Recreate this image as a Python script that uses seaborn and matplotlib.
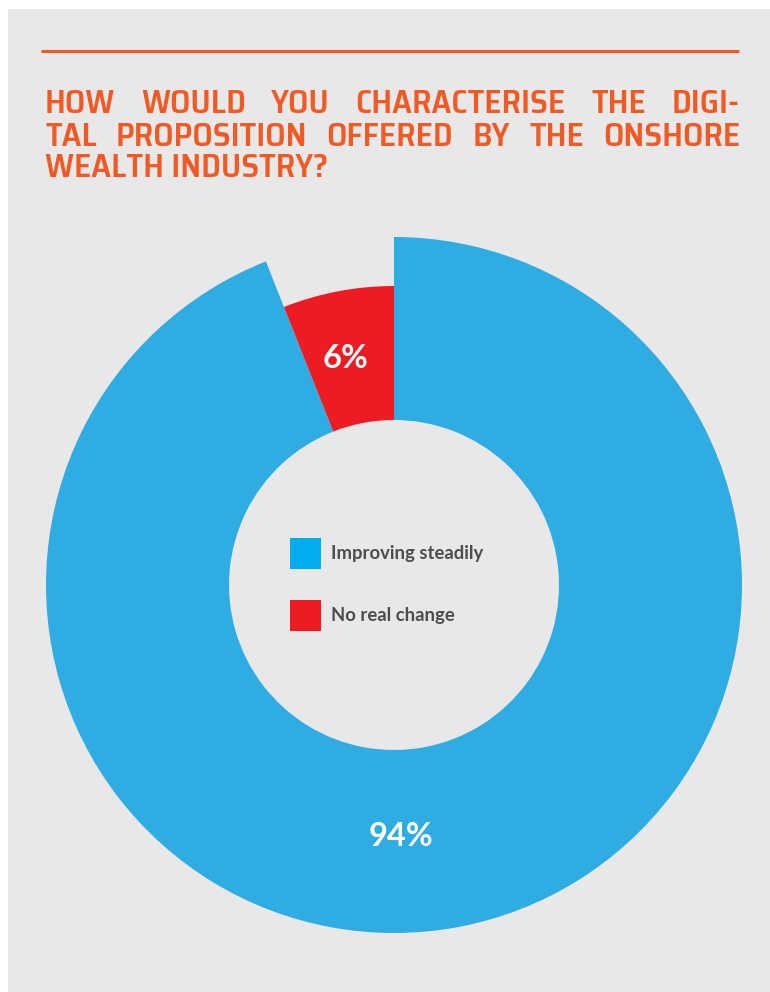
import matplotlib
matplotlib.use("Agg")
import matplotlib.pyplot as plt
from matplotlib.patches import Rectangle
import numpy as np
import seaborn as sns

# Survey answers
categories = ["Improving steadily", "No real change"]
shares = [94, 6]
slice_colors = ["#2FACE1", "#ED1C24"]
legend_colors = ["#00AEEF", "#ED1C24"]

title_lines = [
    "HOW WOULD YOU CHARACTERISE THE DIGI-",
    "TAL PROPOSITION OFFERED BY THE ONSHORE",
    "WEALTH INDUSTRY?",
]

sns.set_theme(style="white")
plt.rcParams["font.family"] = ["DejaVu Sans"]

TITLE_FONT = ["Saira SemiCondensed", "Saira Condensed", "DejaVu Sans"]
BODY_FONT = ["Lato", "DejaVu Sans"]
ORANGE = "#F15A24"

W, H = 770, 992
fig = plt.figure(figsize=(W / 100, H / 100), dpi=100, facecolor="white")
ax = fig.add_axes([0, 0, 1, 1])

# donut: each answer gets its own outer radius, shared inner hole
center = (394, H - 585)
inner_r = 165
outer_r = [348, 299]
for i, (r, c) in enumerate(zip(outer_r, slice_colors)):
    cols = ["none"] * len(shares)
    cols[i] = c
    wedges, _ = ax.pie(shares, colors=cols, startangle=90, counterclock=False,
                       radius=r, center=center, frame=True,
                       wedgeprops=dict(width=r - inner_r, linewidth=0, edgecolor="none"))
    for j, w in enumerate(wedges):
        w.set_visible(j == i)
        w.set_zorder(2)

ax.set_xlim(0, W)
ax.set_ylim(0, H)
ax.set_aspect("equal")
ax.axis("off")

# grey panel and orange rule
ax.add_patch(Rectangle((8, 0), W - 8, H - 9, facecolor="#E8E8E8", edgecolor="none", zorder=0))
ax.plot([41, 739], [H - 51, H - 51], color=ORANGE, lw=2.2, solid_capstyle="butt", zorder=1)

# value labels
label_angles = [-88.4, 102.0]
label_radii = [252, 232]
for v, a, r in zip(shares, label_angles, label_radii):
    x = center[0] + r * np.cos(np.radians(a))
    y = center[1] + r * np.sin(np.radians(a))
    ax.text(x, y, f"{v}%", color="white", fontsize=23.5, fontweight="bold",
            family=BODY_FONT, ha="center", va="center", zorder=3)

# legend inside the hole
sq = 31
row_top = [538, 600]
for lab, col, top in zip(categories, legend_colors, row_top):
    ax.add_patch(Rectangle((290, H - top - sq), sq, sq, facecolor=col, edgecolor="none", zorder=3))
    ax.text(331, H - top - sq / 2, lab, color="#4D4D4D", fontsize=13.3, fontweight="bold",
            family=BODY_FONT, ha="left", va="center", zorder=3)

# justified title
left_px, right_px = 45, 740
baselines = [113, 146, 177]
fs = 24
renderer = fig.canvas.get_renderer()
for k, (line, base) in enumerate(zip(title_lines, baselines)):
    words = line.split(" ")
    y = H - base
    if k == len(title_lines) - 1:
        ax.text(left_px, y, line, color=ORANGE, fontsize=fs, fontweight="semibold",
                family=TITLE_FONT, ha="left", va="baseline", zorder=3)
        continue
    txts = [ax.text(0, y, w, color=ORANGE, fontsize=fs, fontweight="semibold",
                    family=TITLE_FONT, ha="left", va="baseline", zorder=3) for w in words]
    widths = [t.get_window_extent(renderer).width for t in txts]
    gap = (right_px - left_px - sum(widths)) / (len(words) - 1)
    x = left_px
    for t, wd in zip(txts, widths):
        t.set_x(x)
        x += wd + gap

fig.savefig("out.png", dpi=100, facecolor="white")
